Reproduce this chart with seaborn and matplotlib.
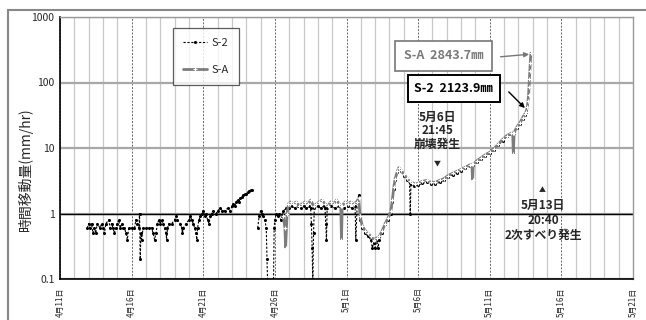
import pandas as pd
import matplotlib
matplotlib.use("Agg")
from matplotlib import pyplot as plt
import matplotlib.dates as mdates
from matplotlib.patches import Rectangle
from matplotlib.ticker import NullLocator
import seaborn as sns

base = pd.Timestamp("2013-04-11")

# S-2 (days after 4/11, mm/hr); seg marks data gaps
s2_day = [1.9, 2.0, 2.1, 2.2, 2.3, 2.4, 2.5, 2.6, 2.8, 2.9, 3.0, 3.1, 3.2, 3.4, 3.5, 3.6,
          3.7, 3.8, 3.9, 4.0, 4.1, 4.2, 4.3, 4.4, 4.5, 4.6, 4.7, 4.8, 5.0, 5.2, 5.3, 5.4,
          5.5, 5.55, 5.6, 5.65, 5.7, 5.8, 6.0, 6.2, 6.4, 6.5, 6.6, 6.7, 6.8, 6.9, 7.0, 7.1,
          7.2, 7.3, 7.4, 7.45, 7.5, 7.6, 7.8, 8.0, 8.1, 8.2, 8.4, 8.5, 8.55, 8.6, 8.8, 9.0,
          9.1, 9.2, 9.3, 9.4, 9.5, 9.55, 9.6, 9.7, 9.8, 9.9, 10.0, 10.1, 10.2, 10.3, 10.4,
          10.5, 10.6, 10.7, 10.9, 11.0, 11.2, 11.3, 11.5, 11.7, 11.9, 12.0, 12.1, 12.2, 12.3,
          12.4, 12.5, 12.6, 12.7, 12.8, 12.9, 13.0, 13.1, 13.2, 13.3, 13.4,
          13.8, 13.9, 14.0, 14.1, 14.2, 14.3, 14.4, 14.45, 14.5, 14.9, 14.95, 15.0, 15.1,
          15.2, 15.3, 15.4, 15.5, 15.6, 15.8, 16.0, 16.2, 16.4, 16.6, 16.8, 17.0, 17.2, 17.4,
          17.5, 17.55, 17.6, 17.65, 17.7, 17.75, 18.0, 18.2, 18.4, 18.5, 18.55, 18.6, 18.65,
          18.9, 19.2, 19.5, 19.8, 20.1, 20.4, 20.6, 20.65, 20.75, 20.85, 20.95, 21.1, 21.3,
          21.5, 21.7, 21.8, 21.9, 22.0, 22.1, 22.2, 22.3, 22.5, 22.7, 22.9, 23.1, 23.2, 23.3,
          23.4, 23.55, 23.65, 23.8, 24.0, 24.2, 24.4, 24.45, 24.5, 24.7, 25.0, 25.3, 25.6,
          25.9, 26.2, 26.5, 26.8, 27.1, 27.4, 27.7, 28.0, 28.3, 28.6, 28.8, 29.1, 29.4, 29.7,
          30.0, 30.3, 30.6, 30.9, 31.2, 31.5, 31.7, 31.9, 32.1, 32.3, 32.45, 32.55]
s2_val = [0.6, 0.7, 0.6, 0.7, 0.5, 0.6, 0.5, 0.7, 0.6, 0.7, 0.6, 0.5, 0.7, 0.8, 0.6, 0.7,
          0.6, 0.5, 0.6, 0.7, 0.8, 0.6, 0.7, 0.6, 0.6, 0.5, 0.4, 0.6, 0.6, 0.6, 0.8, 0.7,
          0.6, 1.0, 0.2, 0.5, 0.4, 0.6, 0.6, 0.6, 0.6, 0.5, 0.4, 0.5, 0.7, 0.8, 0.7, 0.8,
          0.7, 0.6, 0.5, 0.4, 0.6, 0.7, 0.7, 0.8, 0.9, 0.8, 0.7, 0.6, 0.5, 0.6, 0.7, 0.8,
          0.9, 0.8, 0.7, 0.6, 0.5, 0.4, 0.6, 0.8, 0.9, 1.0, 1.1, 0.9, 1.0, 0.8, 0.7,
          0.9, 1.0, 1.1, 1.0, 1.1, 1.2, 1.1, 1.1, 1.2, 1.1, 1.3, 1.4, 1.3, 1.5,
          1.6, 1.5, 1.7, 1.8, 1.9, 2.0, 2.0, 2.1, 2.2, 2.3, 2.3,
          0.6, 0.9, 1.1, 1.0, 0.9, 0.8, 0.6, 0.2, 0.08, 0.08, 0.6, 0.8, 1.0,
          0.9, 1.0, 0.8, 0.9, 1.1, 1.2, 1.2, 1.3, 1.2, 1.3, 1.2, 1.3, 1.2, 1.3,
          1.2, 0.7, 0.3, 0.08, 0.5, 1.2, 1.3, 1.2, 1.3, 1.2, 0.7, 0.4, 1.2,
          1.3, 1.2, 1.3, 1.2, 1.3, 1.2, 1.3, 0.4, 1.5, 1.9, 0.8, 0.6, 0.5,
          0.45, 0.4, 0.3, 0.35, 0.3, 0.4, 0.3, 0.4, 0.5, 0.7, 0.8, 1.0, 1.5, 2.4,
          3.3, 4.3, 4.8, 4.4, 3.8, 3.3, 2.9, 1.0, 2.8, 2.6, 2.7, 2.9, 3.0,
          2.8, 2.8, 3.0, 3.2, 3.6, 3.9, 4.2, 4.5, 5.0, 5.3, 5.5, 6.2, 6.9, 7.6,
          8.3, 9.4, 11.0, 13.0, 15.0, 16.2, 17.0, 20.0, 23.0, 28.0, 32.0, 36.0]
s2_seg = [0] * 104 + [1] * (len(s2_day) - 104)

# S-A
sa_day = [15.6, 15.7, 15.75, 15.85, 15.95, 16.1, 16.3, 16.5, 16.7, 16.9, 17.1, 17.3, 17.5,
          17.7, 17.9, 18.1, 18.3, 18.5, 18.7, 18.9, 19.1, 19.3, 19.5, 19.6, 19.65, 19.7,
          19.9, 20.1, 20.3, 20.5, 20.7, 20.85, 20.95, 21.1, 21.3, 21.5, 21.7, 21.9, 22.1,
          22.3, 22.5, 22.7, 22.9, 23.1, 23.2, 23.3, 23.4, 23.55, 23.65, 23.8, 24.0, 24.2,
          24.4, 24.6, 24.8, 25.0, 25.3, 25.6, 25.9, 26.2, 26.5, 26.8, 27.1, 27.4, 27.7,
          28.0, 28.3, 28.6, 28.75, 28.8, 28.85, 29.1, 29.4, 29.7, 30.0, 30.3, 30.6, 30.9,
          31.2, 31.5, 31.6, 31.65, 31.7, 31.9, 32.1, 32.3, 32.45, 32.55, 32.62, 32.67,
          32.71, 32.74, 32.77, 32.8, 32.83, 32.87]
sa_val = [0.9, 0.6, 0.3, 1.0, 1.4, 1.5, 1.4, 1.5, 1.3, 1.4, 1.5, 1.4, 1.6,
          1.3, 1.4, 1.5, 1.6, 1.4, 1.3, 1.5, 1.4, 1.6, 1.4, 1.3, 0.4, 1.3,
          1.5, 1.4, 1.5, 1.4, 1.5, 1.7, 0.9, 0.65, 0.55, 0.5, 0.45, 0.4, 0.42,
          0.45, 0.55, 0.7, 0.85, 1.1, 1.6, 2.5, 3.4, 4.4, 5.0, 4.6, 4.0, 3.5,
          3.1, 2.95, 2.8, 2.9, 3.1, 3.2, 3.0, 3.0, 3.2, 3.4, 3.8, 4.1, 4.4,
          4.7, 5.1, 5.5, 5.6, 3.3, 5.6, 6.4, 7.1, 7.9, 8.6, 9.8, 11.5, 13.5,
          15.5, 16.8, 17.0, 8.1, 17.2, 21.0, 24.0, 29.0, 33.0, 36.0, 42.0, 52.0,
          65.0, 85.0, 115.0, 150.0, 200.0, 280.0]

x_tick_days = [0, 5, 10, 15, 20, 25, 30, 35, 40]
x_tick_labels = ["4月11日", "4月16日", "4月21日", "4月26日", "5月1日",
                 "5月6日", "5月11日", "5月16日", "5月21日"]
y_ticks = [0.1, 1, 10, 100, 1000]
y_tick_labels = ["0.1", "1", "10", "100", "1000"]

s2 = pd.DataFrame({"time": base + pd.to_timedelta(s2_day, unit="D"),
                   "rate": s2_val, "seg": s2_seg})
sa = pd.DataFrame({"time": base + pd.to_timedelta(sa_day, unit="D"),
                   "rate": sa_val, "seg": 0})


def t(d):
    return base + pd.Timedelta(days=d)


sns.set_style("white")
plt.rcParams["font.family"] = ["Noto Sans CJK JP", "DejaVu Sans"]

fig = plt.figure(figsize=(6.46, 3.2), dpi=100)
ax = fig.add_axes([60 / 646, 41 / 320, 573 / 646, 262 / 320])

sns.lineplot(data=s2, x="time", y="rate", units="seg", estimator=None, ax=ax,
             color="black", lw=0.8, linestyle=(0, (2, 1.5)), marker="o",
             markersize=2.2, markeredgewidth=0, zorder=3)
s2_line = ax.lines[0]
sns.lineplot(data=sa, x="time", y="rate", units="seg", estimator=None, ax=ax,
             color="#7c7c7c", lw=2.0, linestyle="-", marker="+", markersize=3.5,
             markeredgewidth=0.8, zorder=4)
sa_line = ax.lines[-1]

ax.set_yscale("log")
ax.set_ylim(0.1, 1000)
ax.set_xlim(t(0), t(40))
ax.set_yticks(y_ticks, labels=y_tick_labels)
ax.yaxis.set_minor_locator(NullLocator())
ax.set_xticks([t(d) for d in x_tick_days], labels=x_tick_labels)
ax.xaxis.set_minor_locator(mdates.DayLocator())
ax.tick_params(axis="y", labelsize=7.5, length=0, pad=4)
ax.tick_params(axis="x", labelsize=5.8, length=3, width=0.6, color="#666666",
               rotation=90, pad=3)
ax.tick_params(axis="x", which="minor", length=0)

ax.grid(False)
ax.grid(True, axis="x", which="minor", color="#c8c8c8", lw=0.9, zorder=0)
ax.grid(True, axis="x", which="major", color="#666666", lw=0.7,
        linestyle=(0, (2, 1.5)), zorder=0)
ax.grid(True, axis="y", which="major", color="#a8a8a8", lw=1.6, zorder=0)
ax.axhline(1, color="black", lw=1.0, zorder=1)
ax.set_axisbelow(True)

for side in ["left", "bottom"]:
    ax.spines[side].set_color("black")
    ax.spines[side].set_linewidth(1.2)
for side in ["top", "right"]:
    ax.spines[side].set_color("#999999")
    ax.spines[side].set_linewidth(1.0)

ax.set_xlabel("")
ax.set_ylabel("時間移動量(mm/hr)", fontsize=10)
ax.yaxis.set_label_coords(-0.048, 0.42)

leg = ax.legend([s2_line, sa_line], ["S-2", "S-A"], loc="upper left",
                bbox_to_anchor=(0.197, 0.958), fontsize=8,
                frameon=True, fancybox=False, edgecolor="#333333",
                borderpad=0.9, labelspacing=1.5, handlelength=2.2,
                handletextpad=0.4, borderaxespad=0)
leg.get_frame().set_linewidth(0.9)

ax.text(t(26.8), 254, "S-A  2843.7㎜", fontsize=9, fontweight="bold",
        color="#7a7a7a", ha="center", va="center", zorder=6,
        bbox=dict(boxstyle="square,pad=0.7", fc="white", ec="#777777", lw=1.2))
ax.text(t(27.5), 80, "S-2  2123.9㎜", fontsize=9, fontweight="bold",
        color="black", ha="center", va="center", zorder=6,
        bbox=dict(boxstyle="square,pad=0.55", fc="white", ec="black", lw=1.4))
ax.annotate("", xy=(t(32.94), 272), xytext=(t(30.56), 245), zorder=5,
            arrowprops=dict(arrowstyle="-|>", color="#777777", lw=1.0,
                            mutation_scale=7))
ax.annotate("", xy=(t(32.59), 38), xytext=(t(31.19), 77), zorder=5,
            arrowprops=dict(arrowstyle="-|>", color="black", lw=1.0,
                            mutation_scale=7))

ax.text(t(26.36), 18.2, "5月6日\n21:45\n崩壊発生", fontsize=8.5,
        fontweight="bold", ha="center", va="center", linespacing=1.05, zorder=6)
ax.text(t(26.36), 5.7, "▼", fontsize=5, ha="center", va="center", zorder=6)
ax.text(t(33.7), 2.28, "▲", fontsize=5, ha="center", va="center", zorder=6)
ax.text(t(33.72), 0.79, "5月13日\n20:40\n2次すべり発生", fontsize=8.5,
        fontweight="bold", ha="center", va="center", linespacing=1.2, zorder=6)

fig.add_artist(Rectangle((8 / 646, -0.1), 1.2, 1.1 - 10 / 320,
                         transform=fig.transFigure, fill=False,
                         edgecolor="#888888", lw=1.5))

plt.savefig("out.png", dpi=100)
